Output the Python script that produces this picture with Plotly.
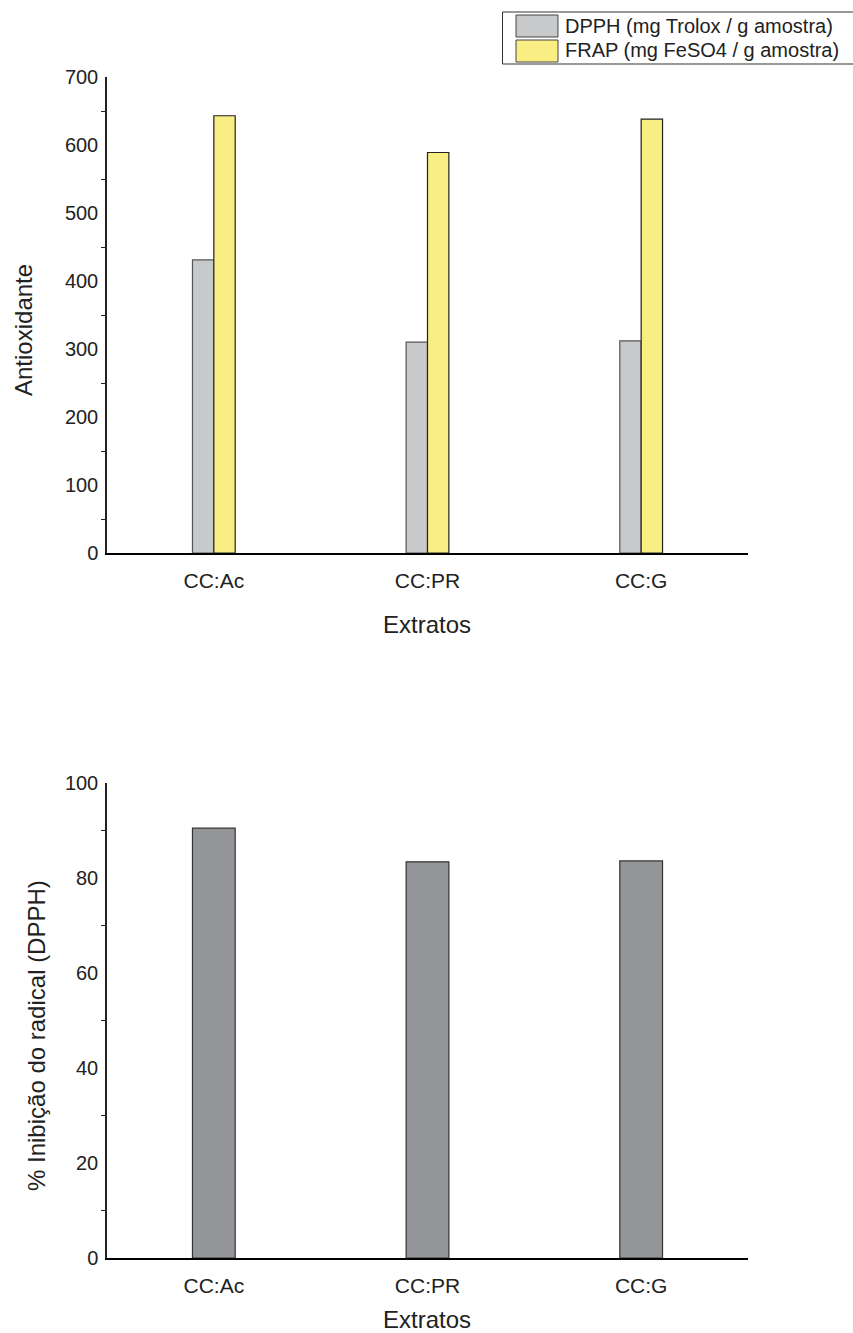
import plotly.graph_objects as go

categories = ["CC:Ac", "CC:PR", "CC:G"]
dpph_values = [431, 310, 312]
frap_values = [643, 589, 638]
inhibition_values = [90.5, 83.4, 83.6]
series_names = ["DPPH (mg Trolox / g amostra)", "FRAP (mg FeSO4 / g amostra)"]

W, H = 853, 1333
FONT = "Liberation Sans, Arial, sans-serif"
TXT = "#222222"
gray_fill = "#C8C9CB"
yellow_fill = "#F8EE84"
dark_fill = "#949599"

fig = go.Figure()
fig.add_trace(go.Bar(x=categories, y=dpph_values, name=series_names[0],
                     marker=dict(color=gray_fill, line=dict(color="#555555", width=1.2)),
                     xaxis="x", yaxis="y", showlegend=False))
fig.add_trace(go.Bar(x=categories, y=frap_values, name=series_names[1],
                     marker=dict(color=yellow_fill, line=dict(color="#222222", width=1.2)),
                     xaxis="x", yaxis="y", showlegend=False))
fig.add_trace(go.Bar(x=categories, y=inhibition_values, name="% Inibição",
                     marker=dict(color=dark_fill, line=dict(color="#333333", width=1.2)),
                     xaxis="x2", yaxis="y2", showlegend=False, width=0.2))

def px_x(p):
    return p / W

def px_y(p):
    return 1 - p / H

x_dom = [px_x(107), px_x(748)]
common_x = dict(showline=True, linecolor="black", linewidth=2, ticks="outside", ticklen=8,
                tickcolor="rgba(0,0,0,0)", tickfont=dict(size=21, color=TXT, family=FONT),
                showgrid=False, zeroline=False, domain=x_dom, fixedrange=True, automargin=False)
common_y = dict(showline=True, linecolor="#222222", linewidth=1.5, ticks="outside", ticklen=3,
                tickcolor="rgba(0,0,0,0)", tickfont=dict(size=20, color=TXT, family=FONT),
                showgrid=False, zeroline=False, automargin=False)

fig.update_layout(
    template="none",
    width=W, height=H, margin=dict(l=0, r=0, t=0, b=0, pad=0, autoexpand=False),
    paper_bgcolor="white", plot_bgcolor="white",
    barmode="group", bargap=0.8, bargroupgap=0,
    font=dict(family=FONT, color=TXT),
    xaxis=dict(**common_x, anchor="y"),
    yaxis=dict(**common_y, anchor="x", domain=[px_y(553), px_y(77)], range=[0, 700], dtick=100,
               minor=dict(dtick=50, ticks="outside", ticklen=4, tickcolor="#222222")),
    xaxis2=dict(**common_x, anchor="y2"),
    yaxis2=dict(**common_y, anchor="x2", domain=[px_y(1258), px_y(783)], range=[0, 100], dtick=20,
                minor=dict(dtick=10, ticks="outside", ticklen=4, tickcolor="#222222")),
    showlegend=False,
)

TITLE = dict(size=24, family=FONT, color=TXT)
C = dict(xref="paper", yref="paper", showarrow=False, xanchor="center", yanchor="middle", font=TITLE)
annots = [
    dict(text="Extratos", x=px_x(427), y=px_y(624), **C),
    dict(text="Extratos", x=px_x(427), y=px_y(1319), **C),
    dict(text="Antioxidante", x=px_x(24), y=px_y(330), textangle=-90, **C),
    dict(text="% Inibição do radical (DPPH)", x=px_x(36), y=px_y(1036), textangle=-90, **C),
]

# custom legend (box + swatches + labels)
shapes = [
    dict(type="rect", xref="paper", yref="paper", x0=px_x(502.5), x1=px_x(856), y0=px_y(64), y1=px_y(12),
         line=dict(color="#333333", width=1), fillcolor="white"),
    dict(type="rect", xref="paper", yref="paper", x0=px_x(516), x1=px_x(558), y0=px_y(37), y1=px_y(15),
         line=dict(color="#444444", width=1), fillcolor=gray_fill),
    dict(type="rect", xref="paper", yref="paper", x0=px_x(516), x1=px_x(558), y0=px_y(62), y1=px_y(40),
         line=dict(color="#444444", width=1), fillcolor=yellow_fill),
]
for name, yc in zip(series_names, [26, 50]):
    annots.append(dict(text=name, x=px_x(563), y=px_y(yc), xref="paper", yref="paper",
                       xanchor="left", yanchor="middle", showarrow=False,
                       font=dict(size=20, family=FONT, color=TXT)))

fig.update_layout(annotations=annots, shapes=shapes)
fig.write_html("out.html")
